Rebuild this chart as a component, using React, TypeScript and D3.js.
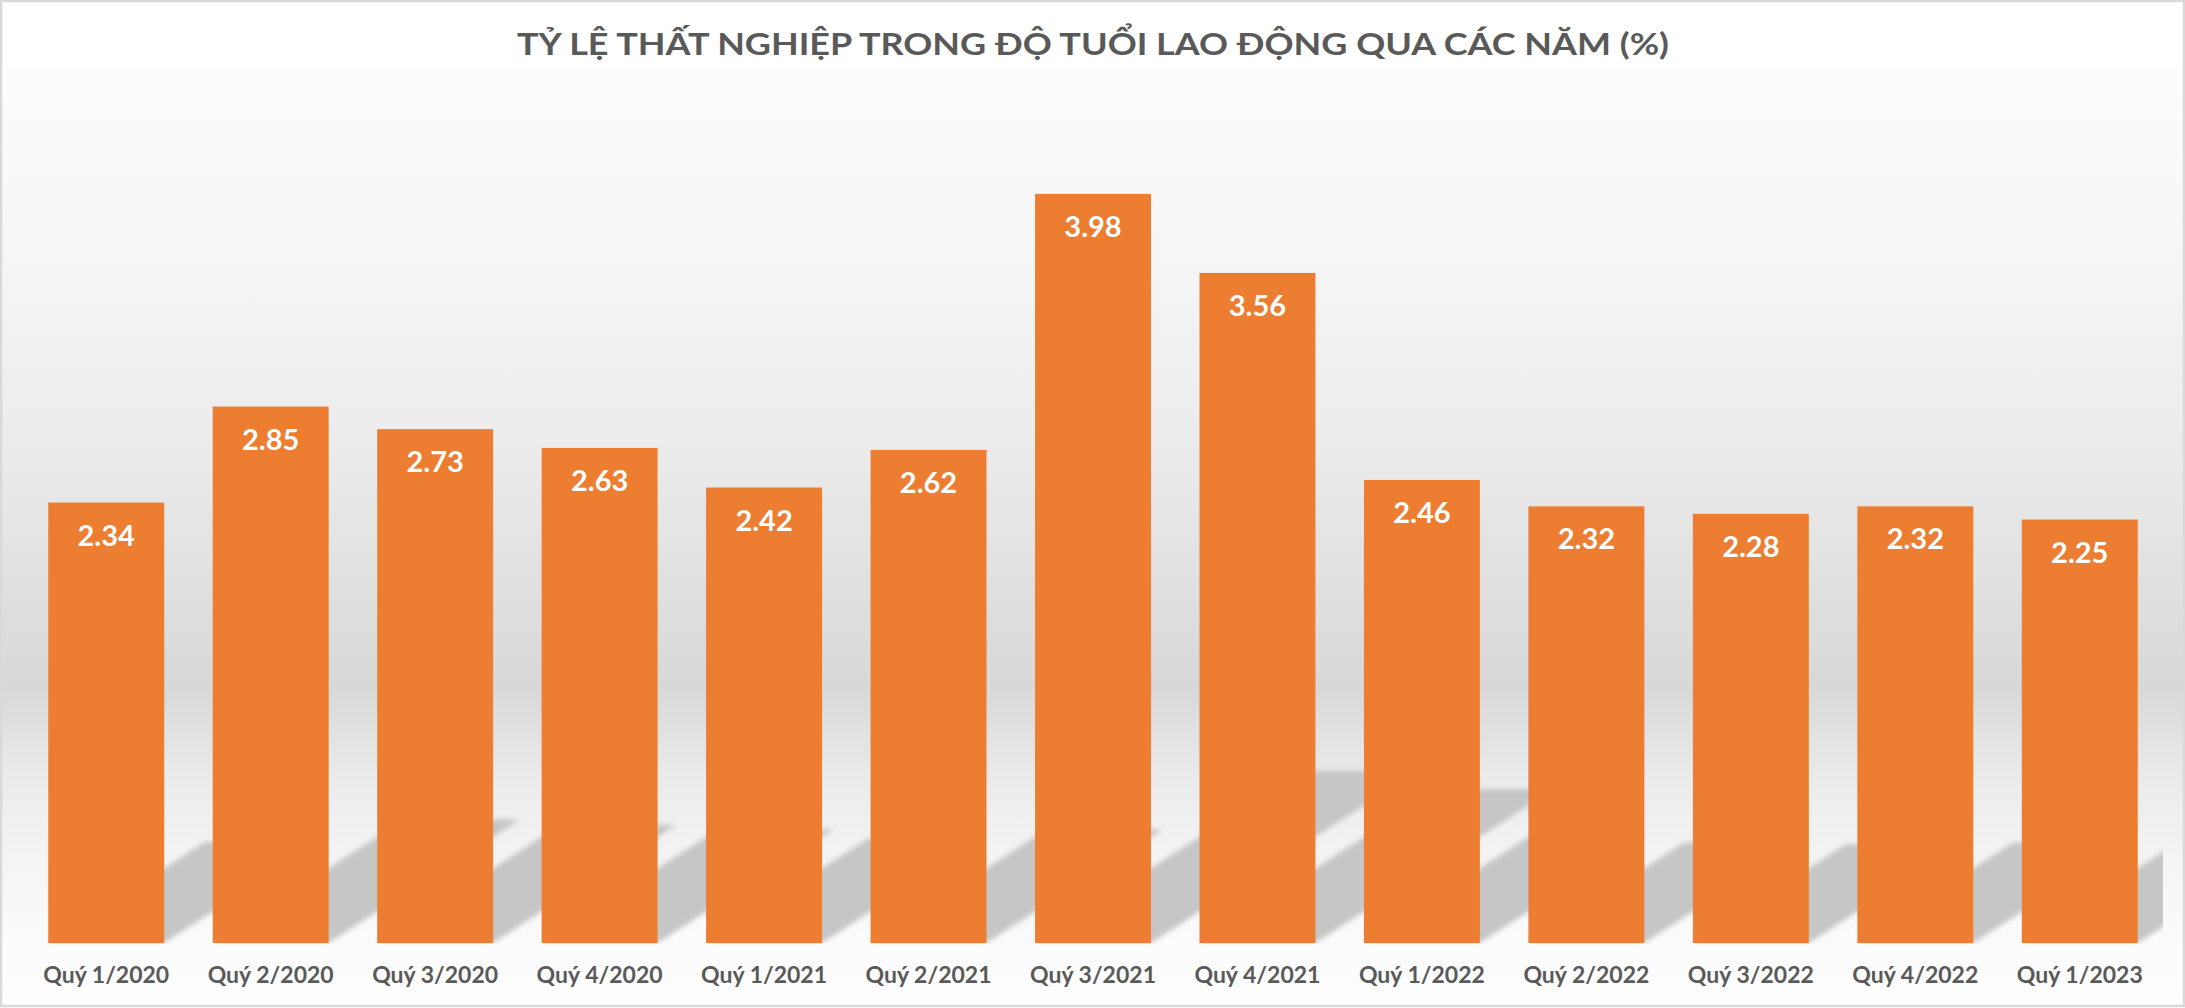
import React from "react";
import * as d3 from "d3";

const categories = [
  "Quý 1/2020", "Quý 2/2020", "Quý 3/2020", "Quý 4/2020",
  "Quý 1/2021", "Quý 2/2021", "Quý 3/2021", "Quý 4/2021",
  "Quý 1/2022", "Quý 2/2022", "Quý 3/2022", "Quý 4/2022",
  "Quý 1/2023",
];
const values = [2.34, 2.85, 2.73, 2.63, 2.42, 2.62, 3.98, 3.56, 2.46, 2.32, 2.28, 2.32, 2.25];
const yDomain = [0, 4.5];
const title = "TỶ LỆ THẤT NGHIỆP TRONG ĐỘ TUỔI LAO ĐỘNG QUA CÁC NĂM (%)";

const W = 2185;
const H = 1008;
const FONT = "Lato, 'Open Sans', sans-serif";

export default function App() {
  const x = d3
    .scaleBand<string>()
    .domain(categories)
    .range([24, 2162])
    .paddingInner(0.295)
    .paddingOuter(0.1475);
  const y = d3.scaleLinear().domain(yDomain).range([943, 96]);
  const bw = x.bandwidth();
  const base = y(0);

  const bgStops: [number, string][] = [
    [68, "#fcfcfc"],
    [250, "#f6f6f6"],
    [440, "#ececec"],
    [560, "#e2e2e2"],
    [687, "#d8d8d8"],
    [780, "#ebebeb"],
    [850, "#f3f3f3"],
    [940, "#fbfbfb"],
    [1005, "#fefefe"],
  ];

  return (
    <svg
      width={W}
      height={H}
      viewBox={`0 0 ${W} ${H}`}
      style={{ position: "absolute", left: 0, top: 0, display: "block" }}
    >
      <defs>
        <linearGradient id="bg" gradientUnits="userSpaceOnUse" x1="0" y1="68" x2="0" y2="1005">
          {bgStops.map(([py, c], i) => (
            <stop key={i} offset={(py - 68) / (1005 - 68)} stopColor={c} />
          ))}
        </linearGradient>
        <filter id="blur" x="-10%" y="-10%" width="120%" height="120%">
          <feGaussianBlur stdDeviation="2.5" />
        </filter>
        <clipPath id="plotClip">
          <rect x={2} y={60} width={2161} height={base - 60 + 1} />
        </clipPath>
      </defs>

      <rect x={0} y={0} width={W} height={H} fill="#ffffff" />
      <rect x={2} y={68} width={W - 4} height={1005 - 68} fill="url(#bg)" />

      {/* perspective shadows */}
      <g clipPath="url(#plotClip)">
        <g filter="url(#blur)">
          {values.map((v, i) => {
            const x0 = x(categories[i]) as number;
            const x1 = x0 + bw;
            const h = base - y(v);
            const hs = h * 0.23;
            const s = hs * 1.55;
            const pts = [
              [x0, base],
              [x1, base],
              [x1 + s, base - hs],
              [x0 + s, base - hs],
            ]
              .map((p) => p.join(","))
              .join(" ");
            return <polygon key={i} points={pts} fill="#c6c6c6" />;
          })}
        </g>
      </g>

      {/* bars */}
      {values.map((v, i) => (
        <rect
          key={i}
          x={x(categories[i])}
          y={y(v)}
          width={bw}
          height={base - y(v)}
          fill="#ED7D31"
        />
      ))}

      {/* value labels */}
      {values.map((v, i) => (
        <text
          key={i}
          x={(x(categories[i]) as number) + bw / 2}
          y={y(v) + 43}
          textAnchor="middle"
          fontFamily={FONT}
          fontWeight={700}
          fontSize={29}
          fill="#ffffff"
        >
          {v.toFixed(2)}
        </text>
      ))}

      {/* category labels */}
      {categories.map((c) => (
        <text
          key={c}
          x={(x(c) as number) + bw / 2}
          y={983}
          textAnchor="middle"
          fontFamily={FONT}
          fontWeight={700}
          fontSize={23}
          fill="#595959"
        >
          {c}
        </text>
      ))}

      {/* title */}
      <text
        x={1093}
        y={55}
        textAnchor="middle"
        fontFamily={FONT}
        fontWeight={700}
        fontSize={30}
        fill="#595959"
        textLength={1152}
        lengthAdjust="spacingAndGlyphs"
      >
        {title}
      </text>

      {/* border */}
      <rect x={1} y={1} width={W - 2} height={1005} fill="none" stroke="#d9d9d9" strokeWidth={2.5} />
    </svg>
  );
}
